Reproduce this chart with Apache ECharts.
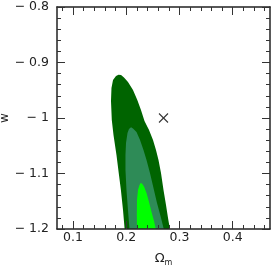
<!DOCTYPE html>
<html>
<head>
<meta charset="utf-8">
<script src="https://cdn.jsdelivr.net/npm/echarts@6/dist/echarts.min.js"></script>
<style>
html,body{margin:0;padding:0;background:#fff;}
#chart{width:273px;height:268px;}
</style>
</head>
<body>
<div id="chart"></div>
<script>
// Axis ranges and ticks
const xMin = 0.07, xMax = 0.47;
const yMin = -1.2, yMax = -0.8;
const xMajorTicks = [0.1, 0.2, 0.3, 0.4];
const xMinorTicks = [0.08, 0.12, 0.14, 0.16, 0.18, 0.22, 0.24, 0.26, 0.28, 0.32, 0.34, 0.36, 0.38, 0.42, 0.44, 0.46];
const yTickValues = [-1.2, -1.1, -1.0, -0.9, -0.8];

// Outer (dark) contour boundary: left edge bottom->top, then right edge top->bottom
const outerOm = [0.197, 0.194, 0.190, 0.1864, 0.1817, 0.1761, 0.1729, 0.1714, 0.1723, 0.1752, 0.1808, 0.1855,
                 0.1902, 0.1958, 0.2033, 0.2127, 0.2208, 0.2277, 0.2343, 0.2428, 0.2503, 0.2559, 0.2606, 0.2653, 0.2700, 0.2747, 0.2785, 0.2820];
const outerW  = [-1.2, -1.166, -1.1297, -1.1027, -1.0667, -1.0306, -1.0036, -0.9694, -0.9459, -0.9315, -0.9243, -0.922,
                 -0.9225, -0.927, -0.9351, -0.9495, -0.9676, -0.9856, -1.0054, -1.0216, -1.0396, -1.0577, -1.0757, -1.0991, -1.1297, -1.1568, -1.1802, -1.2];

// Middle contour
const midOm = [0.2061, 0.2033, 0.2005, 0.1986, 0.1986, 0.1996, 0.2024, 0.2052, 0.2090,
               0.2127, 0.2193, 0.2259, 0.2324, 0.2381, 0.2446, 0.2512, 0.2578, 0.2644, 0.2705];
const midW  = [-1.2, -1.1658, -1.1297, -1.0937, -1.0667, -1.045, -1.027, -1.0198, -1.0168,
               -1.0189, -1.0252, -1.0396, -1.0577, -1.0757, -1.0991, -1.1261, -1.1532, -1.1766, -1.2];

// Inner (bright) contour
const coreOm = [0.2202, 0.2199, 0.2202, 0.2221, 0.2249, 0.2272,
                0.2296, 0.2334, 0.2381, 0.2428, 0.2475, 0.2522, 0.2555];
const coreW  = [-1.2, -1.1748, -1.1477, -1.1297, -1.1207, -1.1171,
                -1.118, -1.1234, -1.1351, -1.1514, -1.1694, -1.1856, -1.2];

// Fiducial point
const bestOm = [0.27];
const bestW = [-1.0];

const contours = [
  { om: outerOm, w: outerW, color: '#006400' },
  { om: midOm, w: midW, color: '#2e8b57' },
  { om: coreOm, w: coreW, color: '#00ff00' }
];

const FONT = '"DejaVu Sans", Verdana, sans-serif';
const TXT = '#222';
const FS = 12.5;
const fmt = v => {
  const s = String(Math.round(v * 100) / 100);
  return s.charAt(0) === '-' ? '\u2212 ' + s.slice(1) : s;
};

const lineStyle = { color: '#222', width: 1.5 };
const tickStyle = { color: '#333', width: 1 };

const chart = echarts.init(document.getElementById('chart'), null, { renderer: 'canvas' });
chart.setOption({
  animation: false,
  backgroundColor: '#fff',
  grid: { left: 57, right: 3, top: 7, bottom: 39, containLabel: false, outerBoundsMode: 'none' },
  xAxis: [
    { type: 'value', position: 'bottom', min: xMin, max: xMax, z: 10,
      axisLine: { show: true, onZero: false, lineStyle },
      axisTick: { show: true, inside: true, length: 8, customValues: xMajorTicks, lineStyle: tickStyle },
      axisLabel: { show: true, customValues: xMajorTicks, formatter: fmt, margin: 2, fontSize: FS, color: TXT, fontFamily: FONT },
      splitLine: { show: false },
      name: '{a|Ω}{b|m}', nameLocation: 'middle', nameGap: 22, nameMoveOverlap: false,
      nameTextStyle: { rich: {
        a: { fontSize: 13, fontFamily: FONT, color: TXT, lineHeight: 16, verticalAlign: 'middle' },
        b: { fontSize: 8, fontFamily: FONT, color: TXT, lineHeight: 16, verticalAlign: 'bottom' }
      } }
    },
    { type: 'value', position: 'bottom', min: xMin, max: xMax, z: 10,
      axisLine: { show: false, onZero: false },
      axisTick: { show: true, inside: true, length: 4, customValues: xMinorTicks, lineStyle: tickStyle },
      axisLabel: { show: false }, splitLine: { show: false } },
    { type: 'value', position: 'top', min: xMin, max: xMax, z: 10,
      axisLine: { show: true, onZero: false, lineStyle },
      axisTick: { show: true, inside: true, length: 8, customValues: xMajorTicks, lineStyle: tickStyle },
      axisLabel: { show: false }, splitLine: { show: false } },
    { type: 'value', position: 'top', min: xMin, max: xMax, z: 10,
      axisLine: { show: false, onZero: false },
      axisTick: { show: true, inside: true, length: 4, customValues: xMinorTicks, lineStyle: tickStyle },
      axisLabel: { show: false }, splitLine: { show: false } }
  ],
  yAxis: [
    { type: 'value', position: 'left', min: yMin, max: yMax, interval: 0.1, z: 10,
      axisLine: { show: true, onZero: false, lineStyle },
      axisTick: { show: true, inside: true, length: 8, lineStyle: tickStyle },
      minorTick: { show: true, splitNumber: 5, length: 4, lineStyle: tickStyle },
      axisLabel: { show: true, formatter: fmt, margin: 8, fontSize: FS, color: TXT, fontFamily: FONT },
      splitLine: { show: false }, minorSplitLine: { show: false },
      name: 'w', nameLocation: 'middle', nameGap: 46, nameRotate: 90, nameMoveOverlap: false,
      nameTextStyle: { fontSize: 12, fontFamily: FONT, color: TXT }
    },
    { type: 'value', position: 'right', min: yMin, max: yMax, interval: 0.1, z: 10,
      axisLine: { show: true, onZero: false, lineStyle },
      axisTick: { show: true, inside: true, length: 8, lineStyle: tickStyle },
      minorTick: { show: true, splitNumber: 5, length: 4, lineStyle: tickStyle },
      axisLabel: { show: false },
      splitLine: { show: false }, minorSplitLine: { show: false } }
  ],
  series: [
    {
      type: 'custom', coordinateSystem: 'cartesian2d', xAxisIndex: 0, yAxisIndex: 0,
      silent: true, z: 1,
      data: contours.map((c, i) => [i]),
      encode: { x: 0 },
      renderItem: function (params, api) {
        const c = contours[api.value(0)];
        const pts = c.om.map((o, i) => api.coord([o, c.w[i]]));
        return { type: 'polygon', shape: { points: pts }, style: { fill: c.color, stroke: null } };
      }
    },
    {
      type: 'custom', coordinateSystem: 'cartesian2d', xAxisIndex: 0, yAxisIndex: 0,
      silent: true, z: 3,
      data: bestOm.map((o, i) => [o, bestW[i]]),
      renderItem: function (params, api) {
        const p = api.coord([api.value(0), api.value(1)]);
        const r = 4.5;
        const st = { stroke: '#333', lineWidth: 1.1 };
        return { type: 'group', children: [
          { type: 'line', shape: { x1: p[0] - r, y1: p[1] - r, x2: p[0] + r, y2: p[1] + r }, style: st },
          { type: 'line', shape: { x1: p[0] - r, y1: p[1] + r, x2: p[0] + r, y2: p[1] - r }, style: st }
        ] };
      }
    }
  ]
});
</script>
</body>
</html>
